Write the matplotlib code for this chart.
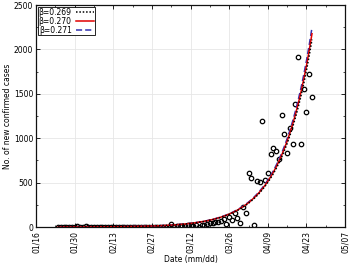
import numpy as np
import pandas as pd
import matplotlib
matplotlib.use("Agg")
import matplotlib.pyplot as plt
import matplotlib.dates as mdates
from matplotlib.ticker import FixedLocator, MultipleLocator

# daily new confirmed cases, 2020-01-24 .. 2020-04-25
start_date = "2020-01-24"
new_cases = [
    1, 2, 1, 3, 2, 1, 2, 12, 3, 2, 15, 2, 1, 3, 2, 1, 2, 1, 3, 2,   # 01/24 - 02/12
    1, 2, 1, 2, 3, 1, 2, 1, 2, 3, 2, 1, 2, 3, 2, 4, 3, 5, 6, 2, 3,  # 02/13 - 03/04
    30, 5, 12, 8, 15, 12, 20, 18, 10, 25, 0, 20,                    # 03/05 - 03/16
    28, 35, 40, 45, 52, 60, 70, 85,                                 # 03/17 - 03/24
    34, 116, 75, 161, 101, 42, 225, 154, 608, 552, 19, 515, 510,    # 03/25 - 04/06
    1197, 533, 605, 819, 890, 856, 769, 1261, 1044, 837, 1118,      # 04/07 - 04/17
    931, 1382, 1911, 931, 1551, 1298, 1720, 1464,                   # 04/18 - 04/25
]

betas = [0.269, 0.270, 0.271]
model_scale = 0.552  # cases on the first day of the fit

dates = pd.date_range(start_date, periods=len(new_cases), freq="D")
t = np.arange(len(new_cases))

fig = plt.figure(figsize=(3.5, 2.64), dpi=100)
ax = fig.add_axes([0.103, 0.14, 0.883, 0.841])

ax.plot(dates, new_cases, "o", mfc="none", mec="black", ms=3.2, mew=0.9, zorder=2)

styles = {0.269: dict(color="black", ls=(0, (1, 1.2)), lw=1.1, zorder=5),
          0.270: dict(color="#e00000", ls="-", lw=1.1, zorder=4),
          0.271: dict(color="#3030b0", ls=(0, (4, 2)), lw=1.1, zorder=3)}
for b in betas:
    curve = model_scale * np.exp(b / 3 * t)
    ax.plot(dates, curve, label="\u03b2=%.3f" % b, **styles[b])

ax.set_xlim(pd.Timestamp("2020-01-16"), pd.Timestamp("2020-05-07"))
ax.set_ylim(0, 2500)
ax.set_yticks(range(0, 2501, 500))
ax.xaxis.set_major_locator(FixedLocator(
    mdates.date2num(pd.date_range("2020-01-16", "2020-05-07", freq="14D"))))
ax.xaxis.set_minor_locator(FixedLocator(
    mdates.date2num(pd.date_range("2020-01-16", "2020-05-07", freq="7D"))))
ax.xaxis.set_major_formatter(mdates.DateFormatter("%m/%d"))
ax.yaxis.set_minor_locator(MultipleLocator(250))

ax.tick_params(which="both", direction="in", top=True, right=True, labelsize=5.5)
ax.tick_params(axis="x", pad=3)
ax.tick_params(axis="y", pad=2)
ax.tick_params(which="major", length=3, width=0.6)
ax.tick_params(which="minor", length=1.5, width=0.5)
plt.setp(ax.get_xticklabels(), rotation=90)

ax.grid(which="major", color="#e6e6e6", lw=0.6)
ax.set_axisbelow(True)
for s in ax.spines.values():
    s.set_linewidth(0.9)
    s.set_color("#111111")

ax.set_xlabel("Date (mm/dd)", fontsize=5.5, labelpad=1)
ax.set_ylabel("No. of new confirmed cases", fontsize=5.5)
ax.yaxis.set_label_coords(-0.078, 0.5)

leg = ax.legend(loc="upper left", fontsize=5.5, markerfirst=False, handlelength=2.4,
                borderaxespad=0.25, borderpad=0.1, labelspacing=0.0, handletextpad=0.5,
                fancybox=False, framealpha=1)
leg.get_frame().set_edgecolor("black")
leg.get_frame().set_linewidth(0.6)

fig.savefig("out.png", dpi=100)
